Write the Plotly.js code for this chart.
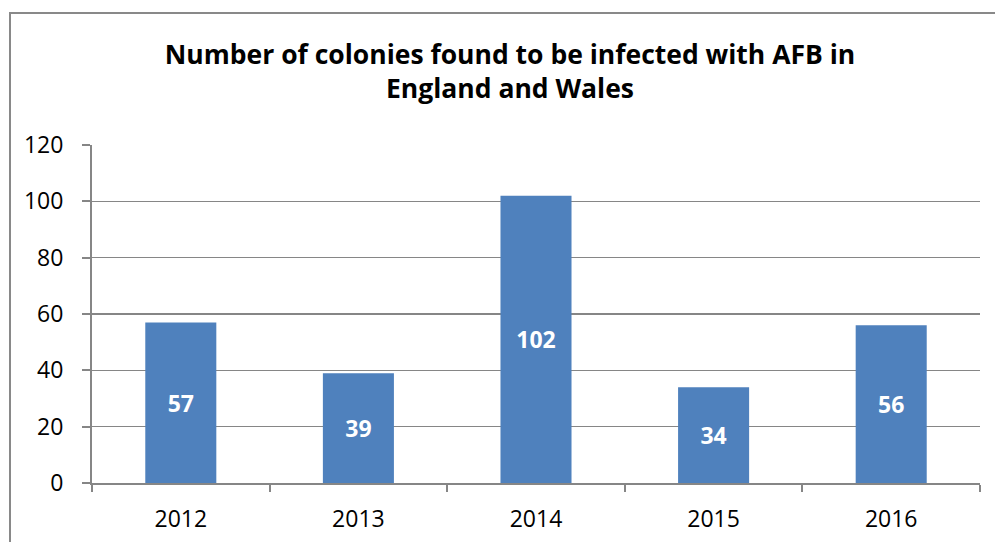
<!DOCTYPE html>
<html><head><meta charset="utf-8">
<script src="https://cdn.plot.ly/plotly-3.0.1.min.js"></script>
<style>
body{margin:0;padding:0;overflow:hidden;background:#fff}
#wrap{position:relative;width:995px;height:542px;overflow:hidden}
#chart{width:995px;height:542px}
#frame{position:absolute;left:9px;top:12px;width:1100px;height:700px;border:2px solid #898989;pointer-events:none}
</style></head>
<body><div id="wrap"><div id="chart"></div><div id="frame"></div></div>
<script>
var years = ['2012','2013','2014','2015','2016'];
var colonies = [57, 39, 102, 34, 56];
var titleText = 'Number of colonies found to be infected with AFB in<br>England and Wales';
var F = 'Open Sans, Noto Sans, sans-serif';
Plotly.newPlot('chart', [{
  type:'bar', x: years, y: colonies,
  marker:{color:'#4F81BD'},
  width:0.4,
  text: colonies.map(String), textposition:'inside', insidetextanchor:'middle',
  textangle:0,
  textfont:{family:F, size:23, color:'#ffffff', weight:'bold'},
  hoverinfo:'none'
}], {
  width:995, height:542,
  margin:{l:92, r:15, t:145, b:59},
  paper_bgcolor:'#fff', plot_bgcolor:'#fff',
  title:{text:titleText, font:{family:F, size:26.5, color:'#000', weight:'bold'}, x:510/995, xanchor:'center', xref:'container', y:1-64/542, yanchor:'top', yref:'container'},
  xaxis:{type:'category', tickson:'boundaries', ticks:'outside', ticklen:7, tickcolor:'#868686', tickwidth:2,
    showline:true, linecolor:'#868686', linewidth:2, showgrid:false, ticklabelstandoff:14,
    tickfont:{family:F, size:23, color:'#000'}},
  yaxis:{range:[0,120], dtick:20, ticks:'outside', ticklen:8, tickcolor:'#868686', tickwidth:2,
    showline:true, linecolor:'#868686', linewidth:2, gridcolor:'#868686', gridwidth:1.5, zeroline:false,
    ticklabelstandoff:14,
    tickfont:{family:F, size:23, color:'#000'}},
  showlegend:false
}, {displayModeBar:false, staticPlot:true});
</script></body></html>
